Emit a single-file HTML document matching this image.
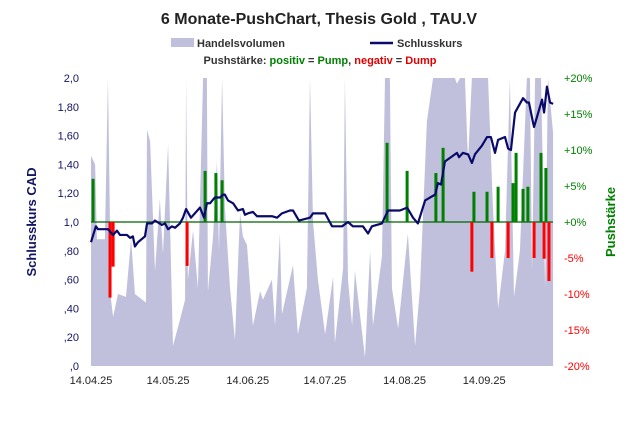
<!DOCTYPE html>
<html><head><meta charset="utf-8"><style>
body{margin:0;background:#fff;}
svg{display:block;font-family:"Liberation Sans",sans-serif;}
</style></head><body>
<svg id="chart" width="638" height="428" viewBox="0 0 638 428">
<text x="319" y="24" text-anchor="middle" font-size="16" font-weight="bold" fill="#222">6 Monate-PushChart, Thesis Gold , TAU.V</text>
<g>
<rect x="171" y="38" width="23" height="9" fill="#c0c0dc"/>
<text x="197" y="47" font-size="11" font-weight="bold" fill="#333">Handelsvolumen</text>
<line x1="370" y1="43" x2="393" y2="43" stroke="#0a0a6a" stroke-width="2.5"/>
<text x="397" y="47" font-size="11" font-weight="bold" fill="#333">Schlusskurs</text>
<text x="320" y="64" text-anchor="middle" font-size="11" font-weight="bold" fill="#333">Pushstärke: <tspan fill="#008000">positiv</tspan> = <tspan fill="#008000">Pump</tspan>, <tspan fill="#e00000">negativ</tspan> = <tspan fill="#e00000">Dump</tspan></text>
</g>
<text transform="translate(36,222) rotate(-90)" text-anchor="middle" font-size="13" font-weight="bold" fill="#141464">Schlusskurs CAD</text>
<text transform="translate(615,222) rotate(-90)" text-anchor="middle" font-size="13" font-weight="bold" fill="#008000">Pushstärke</text>
<g id="plot"></g>
</svg>
<script>
const priceDays=[0,1.9,2.7,6.6,8.6,10.1,11.3,14,15.2,16.3,17.1,18.3,21,21.8,23.7,24.9,27.6,28.8,30,31.5,32.7,34.6,35.8,37,38.9,42.4,44,45.1,46.3,48.2,49.4,50.2,51.4,52.1,53.3,55.3,57.2,59.1,59.9,61.1,63,64.6,66.5,70.4,72.4,74.3,77.4,78.6,80.9,85.2,86.4,87.9,91.1,93.8,97.7,100,101.9,105.8,107.8,109.3,113.2,115.6,119.1,120.2,123,125.3,127.2,130,131.9,133.9,135,136.2,137.7,142.4,143.2,144.7,146.7,148.2,149.4,152.1,154.1,155.6,157.2,158.4,161.1,162.3,163.4,165,168.1,169.6,170.4,172,172.4,175.5,176.3,177.4,178.6,179.8];
const priceValues=[.86,.97,.95,.95,.91,.94,.91,.91,.89,.90,.83,.86,.90,.99,.99,1.01,.98,.99,.95,.97,.96,.99,1.03,1.09,1.03,1.10,1.03,1.13,1.13,1.17,1.17,1.17,1.19,1.19,1.15,1.13,1.08,1.09,1.05,1.06,1.07,1.04,1.04,1.04,1.03,1.06,1.08,1.08,1.01,1.03,1.06,1.06,1.06,.97,.97,1.00,.97,.97,.92,.97,.99,1.08,1.08,1.08,1.10,1.03,.99,1.15,1.17,1.19,1.27,1.26,1.42,1.48,1.45,1.48,1.47,1.41,1.47,1.53,1.59,1.59,1.48,1.57,1.59,1.51,1.50,1.76,1.86,1.83,1.83,1.69,1.66,1.85,1.76,1.94,1.83,1.82];
const volumeDays=[0,1.6,2.3,5.4,6.6,7.8,8.6,10.5,13.6,15.6,17.1,21.4,21.8,23,24.9,26.8,28,30,31.9,34.6,36.6,37,37.7,39.7,41.6,43.6,45.1,45.5,47.5,49,49.8,51,52.1,54.1,56,58,59.1,60.7,63,65.8,66.9,70.4,71.6,73.5,74.3,78.6,80.5,84,85.2,86.4,88.3,91.1,94.2,94.9,98.1,98.8,100,101.6,102.7,106.6,108.6,109.7,113.2,114.4,116.3,117.1,119.5,123.3,126.1,128,130.7,133.1,141.6,142.4,143.6,145.5,146.7,148.2,154.5,156.4,158.4,161.1,163,164.6,166.9,169.6,170.8,171.6,172.8,175.1,176.7,177.8,179.8];
const volumeValues=[73,70,44,44,120,23,17,25,24,44,25,22,82,78,33,58,39,77,7,16,23,120,30,47,27,120,120,26,45,71,40,120,55,27,9,53,45,42,14,26,23,30,14,46,18,35,11,27,120,50,30,11,31,8,34,120,30,14,33,3,40,14,38,120,120,27,13,46,7,27,85,120,120,98,120,120,71,120,120,55,20,40,110,24,40,100,120,33,120,120,27,120,81];
const pushDays=[0.8,7.4,8.6,37.4,44.4,48.6,51,115.2,123,134.2,137,148.2,149,154.1,156,158.4,162.3,164.2,165.4,168.1,170,172.4,175.1,176.3,177,178.2];
const pushValues=[6.0,-10.5,-6.2,-6.1,7.1,6.8,5.8,11.0,7.1,6.8,10.3,-6.9,4.2,4.2,-5.0,4.9,-5.0,5.4,9.6,4.6,4.9,-5.0,9.6,-5.1,7.5,-8.2];
const leftTicks=[0,0.2,0.4,0.6,0.8,1.0,1.2,1.4,1.6,1.8,2.0];
const leftTickLabels=[",0",",20",",40",",60",",80","1,0","1,20","1,40","1,60","1,80","2,0"];
const rightTicks=[-20,-15,-10,-5,0,5,10,15,20];
const rightTickLabels=["-20%","-15%","-10%","-5%","+0%","+5%","+10%","+15%","+20%"];
const xTickDays=[0,30,61,91,122,153];
const xTickLabels=["14.04.25","14.05.25","14.06.25","14.07.25","14.08.25","14.09.25"];

const X0=91,X1=553,YT=78,YB=366;
const xs=d=>X0+d*2.57;
const yPrice=v=>YB-(v/2)*(YB-YT);
const yPct=p=>222-p*7.2;
const yVol=v=>YB-Math.min(v,100)/100*(YB-YT)-(v>100?4:0);
const NS="http://www.w3.org/2000/svg";
const plot=document.getElementById('plot');
function mk(tag,attrs){const e=document.createElementNS(NS,tag);for(const k in attrs)e.setAttribute(k,attrs[k]);return e;}

// volume area
let pts=[xs(volumeDays[0])+","+YB];
for(let i=0;i<volumeDays.length;i++)pts.push(xs(volumeDays[i])+","+Math.max(YT,yVol(volumeValues[i])));
pts.push(xs(volumeDays[volumeDays.length-1])+","+YB);
const area=mk('polygon',{points:pts.join(' '),fill:'#c0c0dc'});


plot.appendChild(area);

// zero line
const zl=mk('line',{x1:X0,x2:X1,y1:yPct(0),y2:yPct(0),stroke:'#006400','stroke-width':1.3});


plot.appendChild(zl);

// push bars
for(let i=0;i<pushDays.length;i++){
  const v=pushValues[i];const y0=yPct(0),y1=yPct(v);
  const b=mk('rect',{x:xs(pushDays[i])-1.5,width:3,y:Math.min(y0,y1),height:Math.abs(y1-y0),fill:v>=0?'#008000':'#ff0000'});
  
  
  plot.appendChild(b);
}

// price line
const lp=priceDays.map((d,i)=>xs(d)+","+yPrice(priceValues[i])).join(' ');
const line=mk('polyline',{points:lp,fill:'none',stroke:'#0a0a6a','stroke-width':2.2,'stroke-linejoin':'round'});


plot.appendChild(line);

// axes labels
for(let i=0;i<leftTicks.length;i++){
  const t=mk('text',{x:79,y:yPrice(leftTicks[i])+4,'text-anchor':'end','font-size':11,fill:'#141464'});
  t.textContent=leftTickLabels[i];
  
  
  plot.appendChild(t);
}
for(let i=0;i<rightTicks.length;i++){
  const v=rightTicks[i];
  const t=mk('text',{x:564,y:yPct(v)+4,'font-size':11,fill:v<0?'#ff0000':'#008000'});
  t.textContent=rightTickLabels[i];
  
  
  plot.appendChild(t);
}
for(let i=0;i<xTickDays.length;i++){
  const t=mk('text',{x:xs(xTickDays[i]),y:384,'text-anchor':'middle','font-size':11,fill:'#222'});
  t.textContent=xTickLabels[i];
  
  
  plot.appendChild(t);
}
</script>
</body></html>
